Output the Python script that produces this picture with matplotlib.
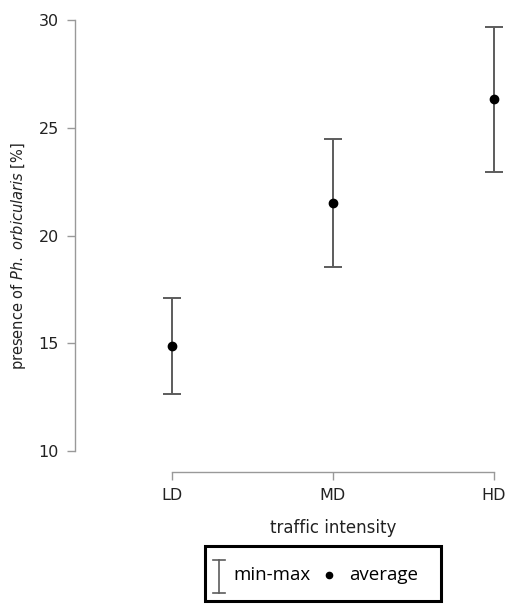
import matplotlib.pyplot as plt
from matplotlib.patches import Rectangle
from matplotlib.lines import Line2D

categories = ['LD', 'MD', 'HD']
averages = [14.87, 21.5, 26.33]
minimums = [12.64, 18.54, 22.95]
maximums = [17.1, 24.48, 29.67]
y_ticks = [10, 15, 20, 25, 30]

AXIS_GREY = '#999999'
BAR_GREY = '#5c5c5c'

plt.rcParams['mathtext.fontset'] = 'dejavusans'

fig = plt.figure(figsize=(5.07, 6.04), dpi=100)
W, H = 507, 604
ax = fig.add_axes([75.4 / W, (H - 472) / H, 426.6 / W, (472 - 13.5) / H])

x = list(range(1, len(categories) + 1))
lower = [a - m for a, m in zip(averages, minimums)]
upper = [m - a for a, m in zip(averages, maximums)]
ax.errorbar(x, averages, yerr=[lower, upper], fmt='none', ecolor=BAR_GREY,
            elinewidth=1.4, capsize=6.5, capthick=1.4, zorder=2)
ax.plot(x, averages, 'o', color='black', markersize=6, zorder=3)

ax.set_xlim(0.4, 3.05)
ax.set_ylim(9.03, 30.3)
ax.set_xticks(x)
ax.set_xticklabels(categories)
ax.set_yticks(y_ticks)

for side in ['top', 'right']:
    ax.spines[side].set_visible(False)
ax.spines['left'].set_bounds(y_ticks[0], y_ticks[-1])
ax.spines['bottom'].set_bounds(x[0], x[-1])
for side in ['left', 'bottom']:
    ax.spines[side].set_color(AXIS_GREY)
    ax.spines[side].set_linewidth(1.0)
ax.tick_params(axis='both', direction='out', length=5.8, width=1.0,
               color=AXIS_GREY, labelsize=11.5, labelcolor='#222222')
ax.tick_params(axis='y', pad=6)
ax.tick_params(axis='x', pad=5.5)

ax.set_xlabel('traffic intensity', fontsize=12, color='#222222')
ax.xaxis.set_label_coords(0.604, -0.1025)
ax.set_ylabel(r'presence of $\it{Ph.\ orbicularis}$ [%]', fontsize=10.5,
              color='#222222')
ax.yaxis.set_label_coords(-47.5 / 426.6, 0.471)

# legend box drawn in figure pixels
def fx(px):
    return px / W

def fy(py):
    return (H - py) / H

fig.patches.append(Rectangle((fx(205), fy(601)), fx(441) - fx(205), fy(546) - fy(601),
                             transform=fig.transFigure, fill=False,
                             edgecolor='black', linewidth=2.2))
fig.lines.append(Line2D([fx(219), fx(219)], [fy(560), fy(593)],
                        transform=fig.transFigure, color=BAR_GREY, lw=1.2))
for py in (560, 593):
    fig.lines.append(Line2D([fx(213), fx(225)], [fy(py), fy(py)],
                            transform=fig.transFigure, color=BAR_GREY, lw=1.2))
fig.lines.append(Line2D([fx(329)], [fy(575)], transform=fig.transFigure,
                        marker='o', color='black', markersize=4.5, linestyle='none'))
fig.text(fx(233), fy(575), 'min-max', fontsize=13.5, family='Open Sans',
         va='center', ha='left')
fig.text(fx(349), fy(575), 'average', fontsize=13.5, family='Open Sans',
         va='center', ha='left')

fig.savefig('out.png', dpi=100)
